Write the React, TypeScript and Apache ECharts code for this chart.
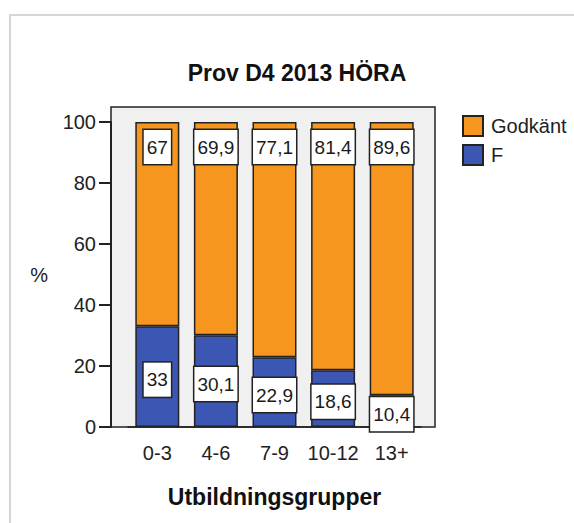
import React, { useEffect, useRef } from "react";
import * as echarts from "echarts";

const categories = ["0-3", "4-6", "7-9", "10-12", "13+"];
const godkantValues = [67, 69.9, 77.1, 81.4, 89.6];
const fValues = [33, 30.1, 22.9, 18.6, 10.4];
const yTicks = { min: 0, max: 100, interval: 20 };
const titleText = "Prov D4 2013 HÖRA";
const xName = "Utbildningsgrupper";
const yName = "%";
const seriesNames = ["Godkänt", "F"];

const FONT = "Arial, 'Liberation Sans', sans-serif";
const ORANGE = "#F7961F";
const BLUE = "#3B57B3";
const DARK = "#222222";

const fmt = (p: any) => String(p.value).replace(".", ",");

const labelBox = {
  show: true,
  formatter: fmt,
  fontFamily: FONT,
  fontSize: 19,
  color: "#1a1a1a",
  backgroundColor: "#ffffff",
  borderColor: DARK,
  borderWidth: 1.5,
  padding: [8, 3, 7, 3],
};

export default function App() {
  const ref = useRef<HTMLDivElement>(null);
  useEffect(() => {
    if (!ref.current) return;
    const chart = echarts.init(ref.current, undefined, { renderer: "svg" });
    chart.setOption({
      animation: false,
      backgroundColor: "#ffffff",
      textStyle: { fontFamily: FONT },
      title: {
        text: titleText,
        left: 292,
        top: 56,
        textAlign: "center",
        textStyle: { fontFamily: FONT, fontSize: 23, fontWeight: "bold", color: "#111" },
      },
      graphic: [
        {
          type: "rect",
          z: -10,
          silent: true,
          shape: { x: 10, y: 15, width: 700, height: 700 },
          style: { fill: "#ffffff", stroke: "#d6d6d6", lineWidth: 2 },
        },
        {
          type: "rect",
          z: -5,
          silent: true,
          shape: { x: 111, y: 107, width: 324, height: 320 },
          style: { fill: "#F0F0F0", stroke: DARK, lineWidth: 1.5 },
        },
      ],
      legend: {
        data: seriesNames,
        orient: "vertical",
        left: 457,
        top: 110,
        itemWidth: 20,
        itemHeight: 20,
        itemGap: 7,
        icon: "rect",
        selectedMode: false,
        textStyle: { fontFamily: FONT, fontSize: 20, color: "#222", padding: [0, 0, 0, 3] },
      },
      grid: { left: 128, right: 153, top: 122, bottom: 96, containLabel: false },
      xAxis: {
        type: "category",
        data: categories,
        name: xName,
        nameLocation: "middle",
        nameGap: 58,
        nameTextStyle: { fontFamily: FONT, fontSize: 23, fontWeight: "bold", color: "#111" },
        axisLine: { lineStyle: { color: DARK, width: 1.5 } },
        axisTick: { alignWithLabel: true, length: 13, lineStyle: { color: DARK, width: 2 } },
        axisLabel: { interval: 0, fontFamily: FONT, fontSize: 20, color: "#222", margin: 16 },
      },
      yAxis: {
        type: "value",
        min: yTicks.min,
        max: yTicks.max,
        interval: yTicks.interval,
        offset: 17,
        name: yName,
        nameLocation: "middle",
        nameRotate: 0,
        nameGap: 63,
        nameTextStyle: { fontFamily: FONT, fontSize: 20, color: "#222" },
        axisLine: { show: true, lineStyle: { color: DARK, width: 2 } },
        axisTick: { show: true, length: 12, lineStyle: { color: DARK, width: 2 } },
        axisLabel: { fontFamily: FONT, fontSize: 20, color: "#222", margin: 15 },
        splitLine: { show: false },
      },
      series: [
        {
          name: "F",
          type: "bar",
          stack: "total",
          data: fValues,
          barWidth: 44,
          itemStyle: { color: BLUE, borderColor: DARK, borderWidth: 1.5 },
          label: { ...labelBox, position: "inside", offset: [0, 3] },
        },
        {
          name: "Godkänt",
          type: "bar",
          stack: "total",
          data: godkantValues,
          barWidth: 44,
          itemStyle: { color: ORANGE, borderColor: DARK, borderWidth: 1.5 },
          label: { ...labelBox, position: "insideTop", distance: 8 },
        },
      ],
    });
    return () => chart.dispose();
  }, []);
  return (
    <div
      ref={ref}
      style={{ position: "fixed", left: 0, top: 0, width: 574, height: 523 }}
    />
  );
}
